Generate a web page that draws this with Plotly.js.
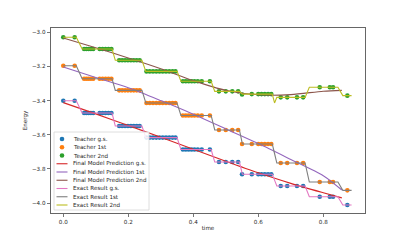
<!DOCTYPE html>
<html>
<head>
<meta charset="utf-8">
<script src="https://cdn.plot.ly/plotly-3.0.1.min.js"></script>
<style>html,body{margin:0;padding:0;background:#fff;}#chart{width:407px;height:244px;}</style>
</head>
<body>
<div id="chart"></div>
<script>
// ---- data ----
const tTeach = [0, 0.035,
  0.064, 0.071, 0.078, 0.085, 0.092,
  0.112, 0.121, 0.130, 0.139, 0.148,
  0.172, 0.181, 0.190, 0.199, 0.208, 0.217, 0.226, 0.235,
  0.256, 0.266, 0.276, 0.286, 0.296, 0.306, 0.316, 0.326, 0.336, 0.345,
  0.368, 0.377, 0.386, 0.395, 0.404, 0.414, 0.426, 0.451,
  0.479, 0.500, 0.520, 0.538,
  0.550,
  0.580, 0.600, 0.610, 0.620, 0.630, 0.640,
  0.669, 0.689, 0.719, 0.738,
  0.789, 0.820, 0.830,
  0.874];
const teachGS = [-3.401, -3.401,
  -3.473, -3.473, -3.473, -3.473, -3.473,
  -3.473, -3.473, -3.473, -3.473, -3.473,
  -3.549, -3.549, -3.549, -3.549, -3.549, -3.549, -3.549, -3.549,
  -3.617, -3.617, -3.617, -3.617, -3.617, -3.617, -3.617, -3.617, -3.617, -3.617,
  -3.687, -3.687, -3.687, -3.687, -3.687, -3.687, -3.687, -3.687,
  -3.760, -3.760, -3.760, -3.760,
  -3.832,
  -3.832, -3.832, -3.832, -3.832, -3.832, -3.832,
  -3.900, -3.900, -3.900, -3.900,
  -3.963, -3.963, -3.963,
  -4.012];
const teachFirst = [-3.196, -3.196,
  -3.272, -3.272, -3.272, -3.272, -3.272,
  -3.272, -3.272, -3.272, -3.272, -3.272,
  -3.340, -3.340, -3.340, -3.340, -3.340, -3.340, -3.340, -3.340,
  -3.414, -3.414, -3.414, -3.414, -3.414, -3.414, -3.414, -3.414, -3.414, -3.414,
  -3.487, -3.487, -3.487, -3.487, -3.487, -3.487, -3.487, -3.487,
  -3.572, -3.572, -3.572, -3.572,
  -3.654,
  -3.654, -3.654, -3.654, -3.654, -3.654, -3.654,
  -3.766, -3.766, -3.766, -3.766,
  -3.877, -3.877, -3.877,
  -3.926];
const teachSecond = [-3.029, -3.029,
  -3.098, -3.098, -3.098, -3.098, -3.098,
  -3.098, -3.098, -3.098, -3.098, -3.098,
  -3.164, -3.164, -3.164, -3.164, -3.164, -3.164, -3.164, -3.164,
  -3.229, -3.229, -3.229, -3.229, -3.229, -3.229, -3.229, -3.229, -3.229, -3.229,
  -3.287, -3.287, -3.287, -3.287, -3.287, -3.287, -3.287, -3.287,
  -3.346, -3.346, -3.346, -3.346,
  -3.364,
  -3.362, -3.362, -3.362, -3.362, -3.362, -3.362,
  -3.381, -3.381, -3.381, -3.381,
  -3.322, -3.322, -3.322,
  -3.371];

const tPred = [0, 0.1, 0.2, 0.3, 0.4, 0.5, 0.6, 0.7, 0.8, 0.857];
const predGS =     [-3.412, -3.478, -3.546, -3.615, -3.685, -3.755, -3.823, -3.885, -3.940, -3.970];
const predFirst =  [-3.203, -3.265, -3.325, -3.400, -3.480, -3.566, -3.652, -3.745, -3.840, -3.924];
const predSecond = [-3.033, -3.091, -3.150, -3.213, -3.283, -3.340, -3.366, -3.365, -3.345, -3.340];

const tExact = [0, 0.040, 0.058, 0.150, 0.160, 0.242, 0.254, 0.350, 0.362, 0.455, 0.466,
  0.542, 0.551, 0.643, 0.650, 0.657, 0.744, 0.757, 0.845, 0.860, 0.887];
const exactGS = [-3.401, -3.401, -3.473, -3.473, -3.549, -3.549, -3.617, -3.617, -3.687, -3.687, -3.760,
  -3.760, -3.832, -3.832, -3.866, -3.900, -3.900, -3.963, -3.963, -4.012, -4.012];
const exactFirst = [-3.196, -3.196, -3.272, -3.272, -3.340, -3.340, -3.414, -3.414, -3.487, -3.487, -3.572,
  -3.572, -3.654, -3.654, -3.710, -3.766, -3.766, -3.877, -3.877, -3.926, -3.926];
const exactSecond = [-3.029, -3.029, -3.098, -3.098, -3.164, -3.164, -3.229, -3.229, -3.287, -3.287, -3.346,
  -3.346, -3.362, -3.362, -3.414, -3.381, -3.381, -3.322, -3.322, -3.371, -3.371];

const xTickVals = [0, 0.2, 0.4, 0.6, 0.8];
const xTickText = ['0.0', '0.2', '0.4', '0.6', '0.8'];
const yTickVals = [-4.0, -3.8, -3.6, -3.4, -3.2, -3.0];
const yTickText = ['\u22124.0', '\u22123.8', '\u22123.6', '\u22123.4', '\u22123.2', '\u22123.0'];

const legendLabels = ['Teacher g.s.', 'Teacher 1st', 'Teacher 2nd',
  'Final Model Prediction g.s.', 'Final Model Prediction 1st', 'Final Model Prediction 2nd',
  'Exact Result g.s.', 'Exact Result 1st', 'Exact Result 2nd'];
const colors = ['#1f77b4', '#ff7f0e', '#2ca02c', '#d62728', '#9467bd', '#8c564b', '#e377c2', '#7f7f7f', '#bcbd22'];
const kinds = ['marker', 'marker', 'marker', 'line', 'line', 'line', 'line', 'line', 'line'];

// ---- traces ----
const FONT = 'DejaVu Sans, Liberation Sans, sans-serif';
const FS = 5.6;
const LW = 1.1;
const MS = 4.6;
function dots(y, c) {
  return {x: tTeach, y: y, type: 'scatter', mode: 'markers', marker: {color: c, size: MS, line: {width: 0}}, hoverinfo: 'skip'};
}
function line(x, y, c, shape) {
  return {x: x, y: y, type: 'scatter', mode: 'lines', line: {color: c, width: LW, shape: shape || 'linear', smoothing: 0.8}, hoverinfo: 'skip'};
}
const traces = [
  dots(teachGS, colors[0]), dots(teachFirst, colors[1]), dots(teachSecond, colors[2]),
  line(tPred, predGS, colors[3], 'spline'), line(tPred, predFirst, colors[4], 'spline'), line(tPred, predSecond, colors[5], 'spline'),
  line(tExact, exactGS, colors[6]), line(tExact, exactFirst, colors[7]), line(tExact, exactSecond, colors[8])
];

// ---- layout geometry ----
const W = 407, H = 244, L = 51, R = 42, T = 28, B = 31;
const PW = W - L - R, PH = H - T - B;
const px2x = p => (p - L) / PW;
const py2y = p => (H - B - p) / PH;

const shapes = [];
const annotations = [];
// legend box
shapes.push({type: 'rect', xref: 'paper', yref: 'paper', x0: px2x(54), x1: px2x(149), y0: py2y(210), y1: py2y(132),
  fillcolor: 'rgba(255,255,255,0.85)', line: {color: '#d6d6d6', width: 0.8}, layer: 'above'});
for (let i = 0; i < legendLabels.length; i++) {
  const cy = 139 + 8.25 * i;
  if (kinds[i] === 'marker') {
    shapes.push({type: 'circle', xref: 'paper', yref: 'paper', xsizemode: 'pixel', ysizemode: 'pixel',
      xanchor: px2x(62), yanchor: py2y(cy), x0: -2.3, x1: 2.3, y0: -2.3, y1: 2.3,
      fillcolor: colors[i], line: {width: 0}, layer: 'above'});
  } else {
    shapes.push({type: 'line', xref: 'paper', yref: 'paper', x0: px2x(56.5), x1: px2x(67.5), y0: py2y(cy), y1: py2y(cy),
      line: {color: colors[i], width: LW}, layer: 'above'});
  }
  annotations.push({text: legendLabels[i], xref: 'paper', yref: 'paper', x: px2x(71), y: py2y(cy),
    xanchor: 'left', yanchor: 'middle', showarrow: false, font: {family: FONT, size: FS, color: '#262626'}});
}

const axisCommon = {
  showgrid: false, zeroline: false, showline: true, mirror: true, linecolor: '#555555', linewidth: 0.9,
  ticks: 'outside', ticklen: 3.5, tickwidth: 0.8, tickcolor: '#555555',
  tickfont: {family: FONT, size: FS, color: '#262626'}
};
const layout = {
  width: W, height: H,
  margin: {l: L, r: R, t: T, b: B, pad: 0},
  paper_bgcolor: '#ffffff', plot_bgcolor: '#ffffff',
  font: {family: FONT, size: FS, color: '#262626'},
  showlegend: false,
  xaxis: Object.assign({}, axisCommon, {range: [-0.0378, 0.9283], tickvals: xTickVals, ticktext: xTickText,
    title: {text: 'time', font: {family: FONT, size: FS, color: '#262626'}, standoff: 1.5}}),
  yaxis: Object.assign({}, axisCommon, {range: [-4.0586, -2.9748], tickvals: yTickVals, ticktext: yTickText,
    title: {text: 'Energy', font: {family: FONT, size: FS, color: '#262626'}, standoff: 3.5}}),
  shapes: shapes,
  annotations: annotations
};
Plotly.newPlot('chart', traces, layout, {staticPlot: true, displayModeBar: false});
</script>
</body>
</html>
